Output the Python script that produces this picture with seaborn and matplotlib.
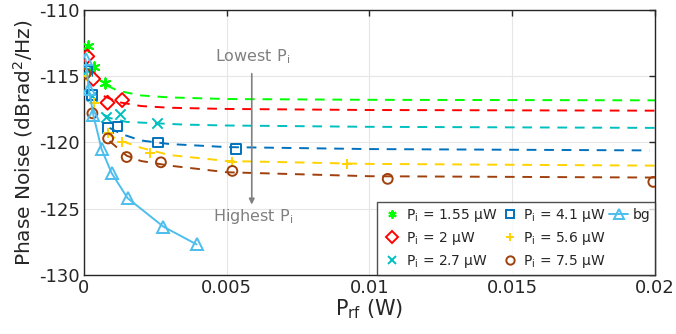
import numpy as np
import pandas as pd
import matplotlib
matplotlib.use("Agg")
import matplotlib.pyplot as plt
import seaborn as sns
from matplotlib.lines import Line2D

# measured points (P_rf in W, phase noise in dBrad^2/Hz)
labels = ["1.55", "2", "2.7", "4.1", "5.6", "7.5"]
colors = ["#00FF00", "#FF0000", "#00BFBF", "#0072BD", "#FFD200", "#A0410D"]
markers = [(6, 2, 0), "D", "x", "s", "+", "o"]
filled = [True, False, True, False, True, False]

x_155 = [0.00015, 0.00035, 0.00074]
y_155 = [-112.7, -114.3, -115.5]
x_2 = [0.00012, 0.00033, 0.00083, 0.00134]
y_2 = [-113.5, -115.2, -117.0, -116.8]
x_27 = [0.0001, 0.0003, 0.00076, 0.00128, 0.00257]
y_27 = [-114.5, -116.5, -118.05, -117.85, -118.5]
x_41 = [0.0001, 0.0003, 0.00085, 0.00118, 0.0026, 0.00532]
y_41 = [-114.6, -116.4, -118.9, -118.8, -120.0, -120.5]
x_56 = [0.0001, 0.00035, 0.00083, 0.00134, 0.00231, 0.0052, 0.0092]
y_56 = [-115.0, -117.0, -119.3, -120.0, -120.8, -121.5, -121.65]
x_75 = [0.00006, 0.0003, 0.00085, 0.0015, 0.0027, 0.0052, 0.01064, 0.01994]
y_75 = [-114.8, -117.8, -119.7, -121.1, -121.5, -122.15, -122.75, -122.98]

# fitted curves
fx_155 = [0.0008, 0.0012, 0.002, 0.003, 0.005, 0.01, 0.02]
fy_155 = [-115.7, -116.1, -116.45, -116.6, -116.72, -116.78, -116.82]
fx_2 = [0.0007, 0.0012, 0.002, 0.003, 0.005, 0.01, 0.02]
fy_2 = [-116.5, -116.95, -117.25, -117.38, -117.47, -117.55, -117.6]
fx_27 = [0.0007, 0.0009, 0.0015, 0.0025, 0.0035, 0.005, 0.01, 0.02]
fy_27 = [-117.9, -118.15, -118.45, -118.55, -118.65, -118.72, -118.82, -118.9]
fx_41 = [0.0009, 0.0013, 0.002, 0.003, 0.005, 0.01, 0.0198]
fy_41 = [-118.9, -119.35, -119.85, -120.12, -120.35, -120.5, -120.6]
fx_56 = [0.0008, 0.0012, 0.002, 0.003, 0.005, 0.01, 0.02]
fy_56 = [-119.3, -119.8, -120.4, -120.95, -121.4, -121.62, -121.75]
fx_75 = [0.0009, 0.0015, 0.002, 0.003, 0.005, 0.01, 0.02]
fy_75 = [-119.9, -121.0, -121.4, -121.75, -122.25, -122.55, -122.65]

# background
x_bg = [0.00006, 0.00018, 0.00033, 0.00062, 0.00097, 0.00153, 0.00278, 0.00395]
y_bg = [-113.7, -116.0, -117.9, -120.5, -122.3, -124.2, -126.35, -127.7]
bg_color = "#4DBEEE"

pts = [(x_155, y_155), (x_2, y_2), (x_27, y_27), (x_41, y_41), (x_56, y_56), (x_75, y_75)]
fits = [(fx_155, fy_155), (fx_2, fy_2), (fx_27, fy_27), (fx_41, fy_41), (fx_56, fy_56), (fx_75, fy_75)]

sns.set_style("white")
plt.rcParams["font.family"] = ["DejaVu Sans"]
plt.rcParams["axes.unicode_minus"] = False

fig = plt.figure(figsize=(6.76, 3.34), dpi=100)
ax = fig.add_axes([0.124, 0.177, 0.845, 0.793])

for (fx, fy), c in zip(fits, colors):
    sns.lineplot(x=fx, y=fy, ax=ax, color=c, linestyle=(0, (5, 4)), linewidth=1.4)

handles = []
for (px, py), c, m, f, lab in zip(pts, colors, markers, filled, labels):
    if f:
        sns.scatterplot(x=px, y=py, ax=ax, marker=m, color=c, s=55, linewidth=1.4, zorder=3)
    else:
        sns.scatterplot(x=px, y=py, ax=ax, marker=m, facecolor="none", edgecolor=c,
                        s=50, linewidth=1.4, zorder=3)
    handles.append(Line2D([], [], linestyle="", marker=m, color=c, markerfacecolor="none",
                          markersize=6, markeredgewidth=1.4,
                          label="P$_\\mathregular{i}$ = " + lab + " µW"))

sns.lineplot(x=x_bg, y=y_bg, ax=ax, color=bg_color, linewidth=1.4, marker="^",
             markerfacecolor="none", markeredgecolor=bg_color, markersize=8,
             markeredgewidth=1.4, zorder=4)
bg_handle = Line2D([], [], color=bg_color, marker="^", markerfacecolor="none",
                   markersize=7, markeredgewidth=1.4, linewidth=1.4, label="bg")
blank = Line2D([], [], linestyle="", label=" ")

ax.set_xlim(0, 0.02)
ax.set_ylim(-130, -110)
ax.set_xticks([0, 0.005, 0.01, 0.015, 0.02])
ax.set_xticklabels(["0", "0.005", "0.01", "0.015", "0.02"])
ax.set_yticks([-130, -125, -120, -115, -110])
ax.grid(True, color="#e6e6e6", linewidth=0.8)
ax.tick_params(direction="in", top=True, right=True, length=4, width=1,
               labelsize=13, colors="#262626", pad=3)
for s in ax.spines.values():
    s.set_color("#262626")
    s.set_linewidth(1)

ax.set_ylabel("Phase Noise (dBrad$^\\mathregular{2}$/Hz)", fontsize=14.5, color="#262626",
              labelpad=3)
ax.set_xlabel("P$_\\mathregular{rf}$ (W)", fontsize=15, color="#262626", labelpad=0)

ax.annotate("", xy=(0.00588, -124.9), xytext=(0.00588, -114.6),
            arrowprops=dict(arrowstyle="-|>", color="#808080", linewidth=1.2,
                            mutation_scale=8))
ax.text(0.00592, -113.5, "Lowest P$_\\mathregular{i}$", color="#808080", fontsize=11.5,
        ha="center", va="center")
ax.text(0.00592, -125.6, "Highest P$_\\mathregular{i}$", color="#808080", fontsize=11.5,
        ha="center", va="center")

leg = ax.legend(handles=handles + [bg_handle, blank, blank], ncol=3, loc="lower right",
                fontsize=10, frameon=True, fancybox=False, borderaxespad=0,
                handlelength=1.4, handletextpad=0.3, columnspacing=0.2,
                labelspacing=0.42, borderpad=0.35)
leg.get_frame().set_edgecolor("#262626")
leg.get_frame().set_linewidth(1)

fig.savefig("out.png", dpi=100)
